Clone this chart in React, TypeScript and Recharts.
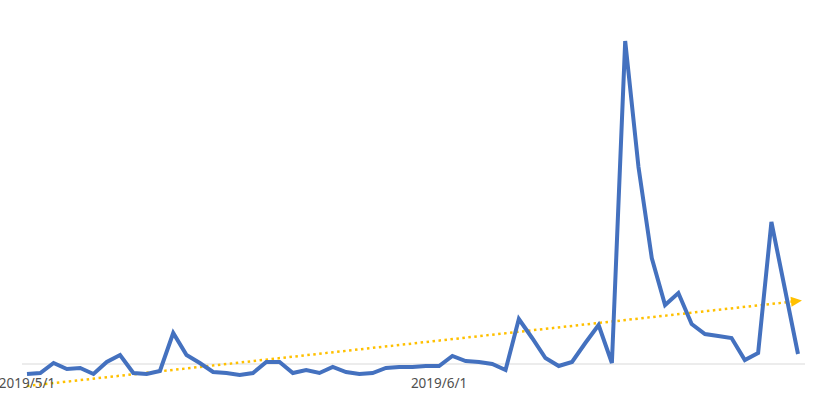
import React from 'react';
import { LineChart, Line, XAxis, YAxis, ReferenceLine } from 'recharts';

const dates: string[] = [
  '2019/5/1', '2019/5/2', '2019/5/3', '2019/5/4', '2019/5/5', '2019/5/6', '2019/5/7', '2019/5/8',
  '2019/5/9', '2019/5/10', '2019/5/11', '2019/5/12', '2019/5/13', '2019/5/14', '2019/5/15', '2019/5/16',
  '2019/5/17', '2019/5/18', '2019/5/19', '2019/5/20', '2019/5/21', '2019/5/22', '2019/5/23', '2019/5/24',
  '2019/5/25', '2019/5/26', '2019/5/27', '2019/5/28', '2019/5/29', '2019/5/30', '2019/5/31',
  '2019/6/1', '2019/6/2', '2019/6/3', '2019/6/4', '2019/6/5', '2019/6/6', '2019/6/7', '2019/6/8',
  '2019/6/9', '2019/6/10', '2019/6/11', '2019/6/12', '2019/6/13', '2019/6/14', '2019/6/15', '2019/6/16',
  '2019/6/17', '2019/6/18', '2019/6/19', '2019/6/20', '2019/6/21', '2019/6/22', '2019/6/23', '2019/6/24',
  '2019/6/25', '2019/6/26', '2019/6/27', '2019/6/28',
];

const values: number[] = [
  -1.0, -0.9, 0.1, -0.5, -0.4, -1.0, 0.2, 0.9, -0.9, -1.0,
  -0.7, 3.1, 0.9, 0.1, -0.8, -0.9, -1.1, -0.9, 0.2, 0.2,
  -0.9, -0.6, -0.9, -0.3, -0.8, -1.0, -0.9, -0.4, -0.3, -0.3,
  -0.2, -0.2, 0.8, 0.3, 0.2, 0.0, -0.6, 4.5, 2.6, 0.6,
  -0.2, 0.2, 2.1, 3.9, 0.1, 32.3, 19.7, 10.6, 5.9, 7.1,
  4.0, 3.0, 2.8, 2.6, 0.4, 1.1, 14.2, 7.6, 1.0,
];

// Linear trendline endpoints (first and last date)
const trendEnds: number[] = [-2.2, 6.3];

const tickLabels: string[] = ['2019/5/1', '2019/6/1'];

const data = dates.map((d, i) => ({
  date: d,
  value: values[i],
  trend: i === 0 ? trendEnds[0] : i === dates.length - 1 ? trendEnds[1] : null,
}));

const DateTick = (props: any) => {
  const { x, y, payload } = props;
  if (!tickLabels.includes(payload.value)) return <g />;
  return (
    <text
      x={x}
      y={y}
      dy={0}
      textAnchor="middle"
      fill="#505050"
      fontSize={13.5}
      fontFamily="'Noto Sans', sans-serif"
    >
      {payload.value}
    </text>
  );
};

const ArrowDot = (props: any) => {
  const { cx, cy, index } = props;
  if (index !== dates.length - 1 || cx == null || cy == null) return <g key={`a${index}`} />;
  return (
    <polygon
      key={`a${index}`}
      points={`${cx + 4},${cy} ${cx - 7},${cy - 5} ${cx - 7},${cy + 5}`}
      fill="#FFC000"
      transform={`rotate(-6 ${cx} ${cy})`}
    />
  );
};

export default function App() {
  return (
    <div style={{ position: 'absolute', left: 0, top: 0, width: 820, height: 420, background: '#ffffff' }}>
      <LineChart
        width={820}
        height={420}
        data={data}
        margin={{ top: 34, right: 15, bottom: 8, left: 22 }}
      >
        <XAxis
          dataKey="date"
          type="category"
          interval={0}
          axisLine={false}
          tickLine={false}
          tickSize={0}
          tickMargin={0}
          height={24}
          padding={{ left: 5, right: 7 }}
          tick={<DateTick />}
        />
        <YAxis hide domain={[-2.4, 33]} />
        <ReferenceLine y={0} stroke="#d9d9d9" strokeWidth={1} ifOverflow="extendDomain" />
        <Line
          dataKey="trend"
          type="linear"
          stroke="#FFC000"
          strokeWidth={2.5}
          strokeDasharray="2.5 3.5"
          connectNulls
          dot={<ArrowDot />}
          activeDot={false}
          isAnimationActive={false}
        />
        <Line
          dataKey="value"
          type="linear"
          stroke="#4471BF"
          strokeWidth={4}
          strokeLinejoin="miter"
          dot={false}
          activeDot={false}
          isAnimationActive={false}
        />
      </LineChart>
    </div>
  );
}
